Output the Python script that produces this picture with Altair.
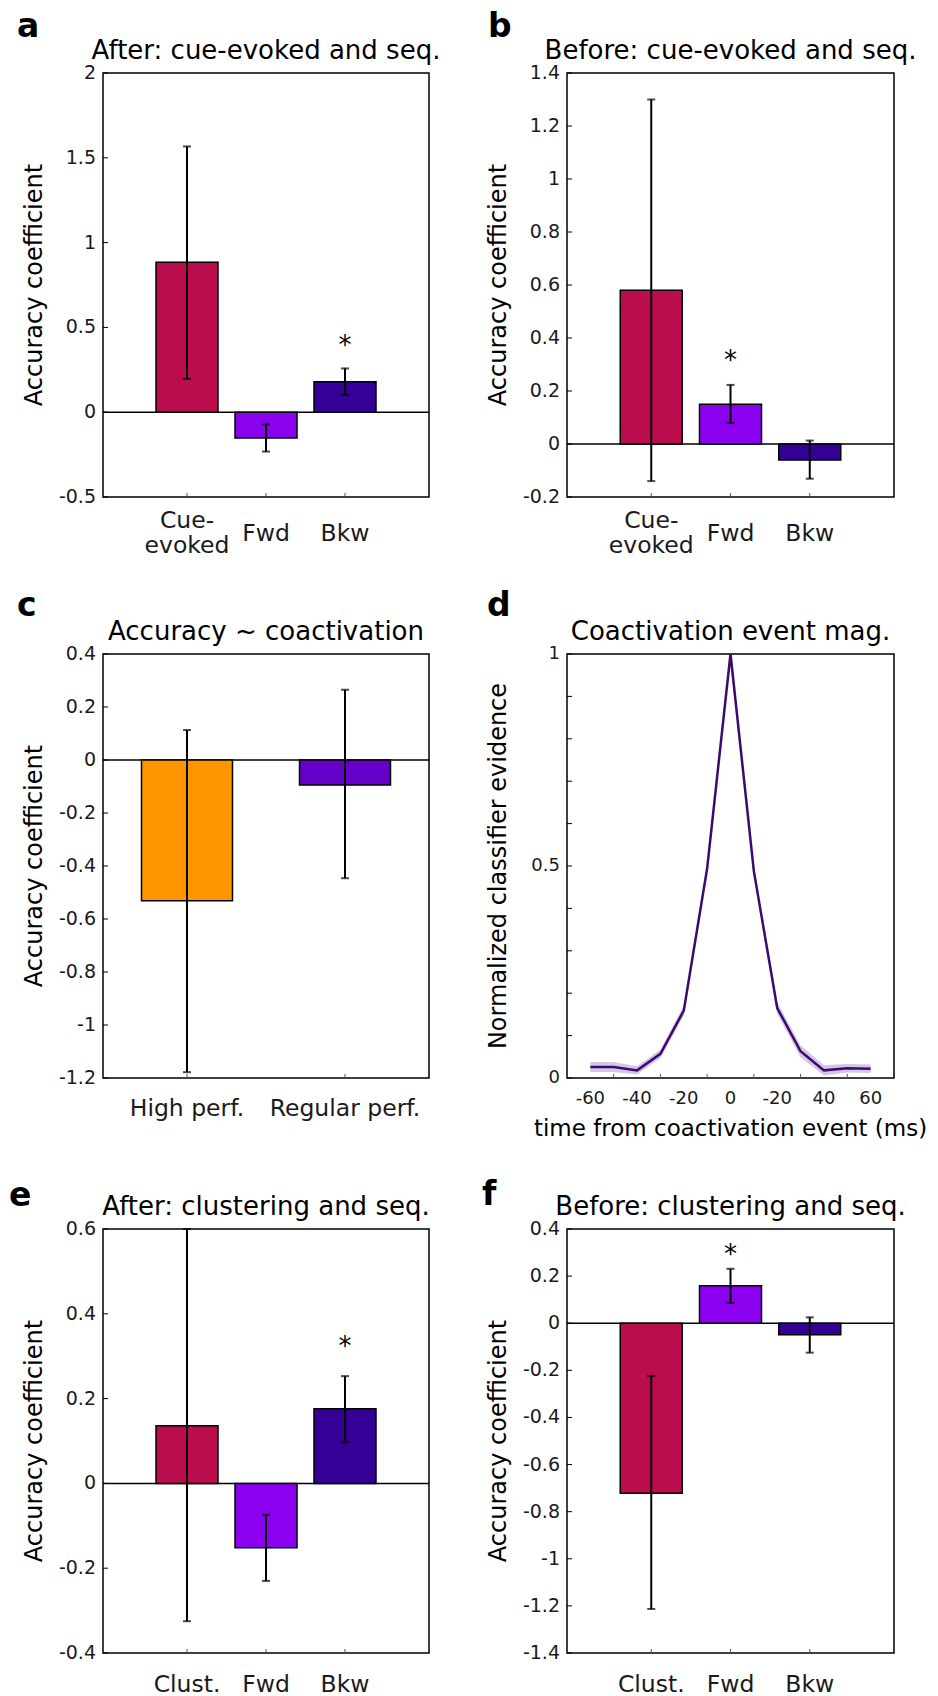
import altair as alt
import pandas as pd

FONT = "DejaVu Sans"

# ---------------- data ----------------
# a: After: cue-evoked and seq.
a_cats = ["Cue-evoked", "Fwd", "Bkw"]
a_labels = ["Cue-\nevoked", "Fwd", "Bkw"]
a_pos = [1, 2, 3]
a_val = [0.884, -0.152, 0.180]
a_lo = [0.197, -0.232, 0.101]
a_hi = [1.567, -0.071, 0.258]
a_star_pos = [3]
a_star_y = [0.423]
a_yticks = [-0.5, 0, 0.5, 1, 1.5, 2]
a_ylabels = ["-0.5", "0", "0.5", "1", "1.5", "2"]

# b: Before: cue-evoked and seq.
b_cats = ["Cue-evoked", "Fwd", "Bkw"]
b_labels = ["Cue-\nevoked", "Fwd", "Bkw"]
b_pos = [1, 2, 3]
b_val = [0.580, 0.150, -0.060]
b_lo = [-0.140, 0.079, -0.131]
b_hi = [1.300, 0.223, 0.013]
b_star_pos = [2]
b_star_y = [0.336]
b_yticks = [-0.2, 0, 0.2, 0.4, 0.6, 0.8, 1, 1.2, 1.4]
b_ylabels = ["-0.2", "0", "0.2", "0.4", "0.6", "0.8", "1", "1.2", "1.4"]

# c: Accuracy ~ coactivation
c_cats = ["High perf.", "Regular perf."]
c_labels = ["High perf.", "Regular perf."]
c_pos = [1, 2]
c_val = [-0.531, -0.094]
c_lo = [-1.178, -0.446]
c_hi = [0.113, 0.265]
c_yticks = [-1.2, -1, -0.8, -0.6, -0.4, -0.2, 0, 0.2, 0.4]
c_ylabels = ["-1.2", "-1", "-0.8", "-0.6", "-0.4", "-0.2", "0", "0.2", "0.4"]

# d: Coactivation event mag.
d_t = [-60, -50, -40, -30, -20, -10, 0, 10, 20, 30, 40, 50, 60]
d_mean = [0.026, 0.026, 0.018, 0.057, 0.159, 0.494, 1.0, 0.488, 0.165, 0.063, 0.018, 0.023, 0.022]
d_lower = [0.014, 0.014, 0.008, 0.047, 0.147, 0.484, 1.0, 0.478, 0.151, 0.049, 0.006, 0.013, 0.012]
d_upper = [0.038, 0.038, 0.028, 0.067, 0.171, 0.504, 1.0, 0.498, 0.179, 0.077, 0.030, 0.033, 0.032]
d_xlabel_vals = [-60, -40, -20, 0, 20, 40, 60]
d_xlabels = ["-60", "-40", "-20", "0", "-20", "40", "60"]
d_xticks = [-50, -30, -10, 10, 30, 50]
d_ylabel_vals = [0, 0.5, 1]
d_ylabels = ["0", "0.5", "1"]
d_yticks = [0, 0.1, 0.2, 0.3, 0.4, 0.5, 0.6, 0.7, 0.8, 0.9, 1.0]

# e: After: clustering and seq.
e_cats = ["Clust.", "Fwd", "Bkw"]
e_labels = ["Clust.", "Fwd", "Bkw"]
e_pos = [1, 2, 3]
e_val = [0.136, -0.152, 0.176]
e_lo = [-0.325, -0.230, 0.097]
e_hi = [0.600, -0.074, 0.253]
e_star_pos = [3]
e_star_y = [0.337]
e_yticks = [-0.4, -0.2, 0, 0.2, 0.4, 0.6]
e_ylabels = ["-0.4", "-0.2", "0", "0.2", "0.4", "0.6"]

# f: Before: clustering and seq.
f_cats = ["Clust.", "Fwd", "Bkw"]
f_labels = ["Clust.", "Fwd", "Bkw"]
f_pos = [1, 2, 3]
f_val = [-0.722, 0.159, -0.049]
f_lo = [-1.213, 0.086, -0.125]
f_hi = [-0.224, 0.231, 0.025]
f_star_pos = [2]
f_star_y = [0.314]
f_yticks = [-1.4, -1.2, -1, -0.8, -0.6, -0.4, -0.2, 0, 0.2, 0.4]
f_ylabels = ["-1.4", "-1.2", "-1", "-0.8", "-0.6", "-0.4", "-0.2", "0", "0.2", "0.4"]

# ---------------- styles ----------------
CRIMSON = "#B90D4D"
VIOLET = "#8B00EF"
INDIGO = "#340096"
ORANGE = "#FF9500"
PURPLE = "#6500C9"
TXT = "#1a1a1a"

W_L, W_R, H = 326, 327, 424
EXT_L, EXT_R, EXT_B = 102, 30, 75


def one(**kw):
    return alt.Chart(pd.DataFrame({k: [v] for k, v in kw.items()}))


def frame_layers(w, h, top_ext, title, letter, lx, ly, ytitle):
    bounds = one(b=0).mark_rect(opacity=0).encode(
        x=alt.value(-EXT_L), x2=alt.value(w + EXT_R),
        y=alt.value(-top_ext), y2=alt.value(h + EXT_B))
    ttl = one(t=title).mark_text(font=FONT, fontSize=26, align="center",
                                 baseline="alphabetic", color="black").encode(
        text="t:N", x=alt.value(w / 2), y=alt.value(-14))
    let = one(t=letter).mark_text(font=FONT, fontSize=33, fontWeight="bold",
                                  align="left", baseline="alphabetic",
                                  color="black").encode(
        text="t:N", x=alt.value(lx), y=alt.value(ly))
    yt = one(t=ytitle).mark_text(font=FONT, fontSize=24, align="center",
                                 baseline="alphabetic", angle=270,
                                 color="black").encode(
        text="t:N", x=alt.value(-61), y=alt.value(h / 2))
    return [bounds, ttl, let, yt]


def y_label_layers(ys, ticks, label_vals, labels, size):
    labs = alt.Chart(pd.DataFrame({"v": label_vals, "lab": labels})).mark_text(
        font=FONT, fontSize=size, align="right", baseline="middle", color=TXT).encode(
        y=alt.Y("v:Q", scale=ys, axis=None), x=alt.value(-7), text="lab:N")
    tk = alt.Chart(pd.DataFrame({"v": ticks})).mark_rule(
        color="black", strokeWidth=1).encode(
        y=alt.Y("v:Q", scale=ys, axis=None), x=alt.value(0), x2=alt.value(5))
    return [labs, tk]


def x_label_layers(xs, h, pos, labels, size, base_off):
    single = [(p, l) for p, l in zip(pos, labels) if "\n" not in l]
    multi = [(p, l) for p, l in zip(pos, labels) if "\n" in l]
    out = []
    if single:
        out.append(alt.Chart(pd.DataFrame(single, columns=["p", "lab"])).mark_text(
            font=FONT, fontSize=size, align="center", baseline="alphabetic",
            color=TXT).encode(
            x=alt.X("p:Q", scale=xs, axis=None), y=alt.value(h + base_off), text="lab:N"))
    if multi:
        out.append(alt.Chart(pd.DataFrame(multi, columns=["p", "lab"])).mark_text(
            font=FONT, fontSize=size, align="center", baseline="alphabetic",
            lineBreak="\n", lineHeight=25, color=TXT).encode(
            x=alt.X("p:Q", scale=xs, axis=None), y=alt.value(h + base_off - 13),
            text="lab:N"))
    return out


def bar_panel(letter, title, cats, labels, pos, val, lo, hi, star_pos, star_y,
              yticks, ylabels, colors, w, top_ext, lx, ly, xdom, bar_w, lab_off):
    h = H
    df = pd.DataFrame({"cat": cats, "pos": pos, "val": val, "lo": lo, "hi": hi})
    xs = alt.Scale(domain=xdom, nice=False, zero=False)
    ys = alt.Scale(domain=[yticks[0], yticks[-1]], nice=False, zero=False)
    base = alt.Chart(df)
    bars = base.mark_bar(width=bar_w, stroke="black", strokeWidth=1.5).encode(
        x=alt.X("pos:Q", scale=xs, axis=None),
        y=alt.Y("val:Q", scale=ys, axis=None),
        y2=alt.datum(0),
        color=alt.Color("cat:N", scale=alt.Scale(domain=cats, range=colors), legend=None),
    )
    zero = one(z=0).mark_rule(color="black", strokeWidth=1.5).encode(
        y=alt.Y("z:Q", scale=ys, axis=None))
    err = base.mark_rule(color="black", strokeWidth=2).encode(
        x=alt.X("pos:Q", scale=xs, axis=None),
        y=alt.Y("lo:Q", scale=ys, axis=None), y2="hi:Q")
    cap_lo = base.mark_tick(orient="horizontal", color="black", size=8,
                            thickness=2).encode(
        x=alt.X("pos:Q", scale=xs, axis=None), y=alt.Y("lo:Q", scale=ys, axis=None))
    cap_hi = base.mark_tick(orient="horizontal", color="black", size=8,
                            thickness=2).encode(
        x=alt.X("pos:Q", scale=xs, axis=None), y=alt.Y("hi:Q", scale=ys, axis=None))
    xt = alt.Chart(pd.DataFrame({"p": pos})).mark_rule(
        color="#555", strokeWidth=1).encode(
        x=alt.X("p:Q", scale=xs, axis=None), y=alt.value(h), y2=alt.value(h - 4))
    layers = frame_layers(w, h, top_ext, title, letter, lx, ly, "Accuracy coefficient")
    layers += [zero, bars, err, cap_lo, cap_hi, xt]
    layers += y_label_layers(ys, yticks, yticks, ylabels, 19)
    layers += x_label_layers(xs, h, pos, labels, 23.5, lab_off)
    if star_pos:
        stars = alt.Chart(pd.DataFrame({"p": star_pos, "s": star_y})).mark_text(
            text="*", font=FONT, fontSize=26, baseline="alphabetic", dy=14,
            color="black").encode(
            x=alt.X("p:Q", scale=xs, axis=None), y=alt.Y("s:Q", scale=ys, axis=None))
        layers.append(stars)
    return alt.layer(*layers).properties(width=w, height=h)


def line_panel(w, top_ext):
    h = H
    df = pd.DataFrame({"t": d_t, "m": d_mean, "lo": d_lower, "hi": d_upper})
    xs = alt.Scale(domain=[-70, 70], nice=False, zero=False)
    ys = alt.Scale(domain=[0, 1], nice=False, zero=False)
    base = alt.Chart(df)
    band = base.mark_area(color="#c7b3df", opacity=0.75).encode(
        x=alt.X("t:Q", scale=xs, axis=None),
        y=alt.Y("lo:Q", scale=ys, axis=None), y2="hi:Q")
    line = base.mark_line(color="#3b0a6e", strokeWidth=2.5).encode(
        x=alt.X("t:Q", scale=xs, axis=None),
        y=alt.Y("m:Q", scale=ys, axis=None))
    xt = alt.Chart(pd.DataFrame({"p": d_xticks})).mark_rule(
        color="#555", strokeWidth=1).encode(
        x=alt.X("p:Q", scale=xs, axis=None), y=alt.value(h), y2=alt.value(h - 4))
    xtitle = one(t="time from coactivation event (ms)").mark_text(
        font=FONT, fontSize=23, align="center", baseline="alphabetic",
        color="black").encode(text="t:N", x=alt.value(w / 2), y=alt.value(h + 58))
    layers = frame_layers(w, h, top_ext, "Coactivation event mag.", "d", -80, -38,
                          "Normalized classifier evidence")
    layers += [band, line, xt, xtitle]
    layers += y_label_layers(ys, d_yticks, d_ylabel_vals, d_ylabels, 18)
    layers += x_label_layers(xs, h, d_xlabel_vals, d_xlabels, 18, 26)
    return alt.layer(*layers).properties(width=w, height=h)


pa = bar_panel("a", "After: cue-evoked and seq.", a_cats, a_labels, a_pos, a_val,
               a_lo, a_hi, a_star_pos, a_star_y, a_yticks, a_ylabels,
               [CRIMSON, VIOLET, INDIGO], W_L, 72, -86, -36, [0, 4], 62, 43.5)
pb = bar_panel("b", "Before: cue-evoked and seq.", b_cats, b_labels, b_pos, b_val,
               b_lo, b_hi, b_star_pos, b_star_y, b_yticks, b_ylabels,
               [CRIMSON, VIOLET, INDIGO], W_R, 72, -79, -36, [0, 4], 62, 43.5)
pc = bar_panel("c", "Accuracy ~ coactivation", c_cats, c_labels, c_pos, c_val,
               c_lo, c_hi, [], [], c_yticks, c_ylabels, [ORANGE, PURPLE],
               W_L, 72, -86, -38, [0.5, 2.5], 91, 37.5)
pd_ = line_panel(W_R, 72)
pe = bar_panel("e", "After: clustering and seq.", e_cats, e_labels, e_pos, e_val,
               e_lo, e_hi, e_star_pos, e_star_y, e_yticks, e_ylabels,
               [CRIMSON, VIOLET, INDIGO], W_L, 66, -94, -23, [0, 4], 62, 39)
pf = bar_panel("f", "Before: clustering and seq.", f_cats, f_labels, f_pos, f_val,
               f_lo, f_hi, f_star_pos, f_star_y, f_yticks, f_ylabels,
               [CRIMSON, VIOLET, INDIGO], W_R, 66, -85, -24, [0, 4], 62, 39)

row1 = alt.hconcat(pa, pb, spacing=4).resolve_scale(color="independent")
row2 = alt.hconcat(pc, pd_, spacing=4).resolve_scale(color="independent")
row3 = alt.hconcat(pe, pf, spacing=4).resolve_scale(color="independent")

chart = alt.vconcat(row1, row2, row3, spacing=8).resolve_scale(
    color="independent"
).properties(
    padding=0, background="white"
).configure_view(stroke="black", strokeWidth=1.5)

chart.save("out.html", embed_options={"renderer": "svg", "actions": False})
